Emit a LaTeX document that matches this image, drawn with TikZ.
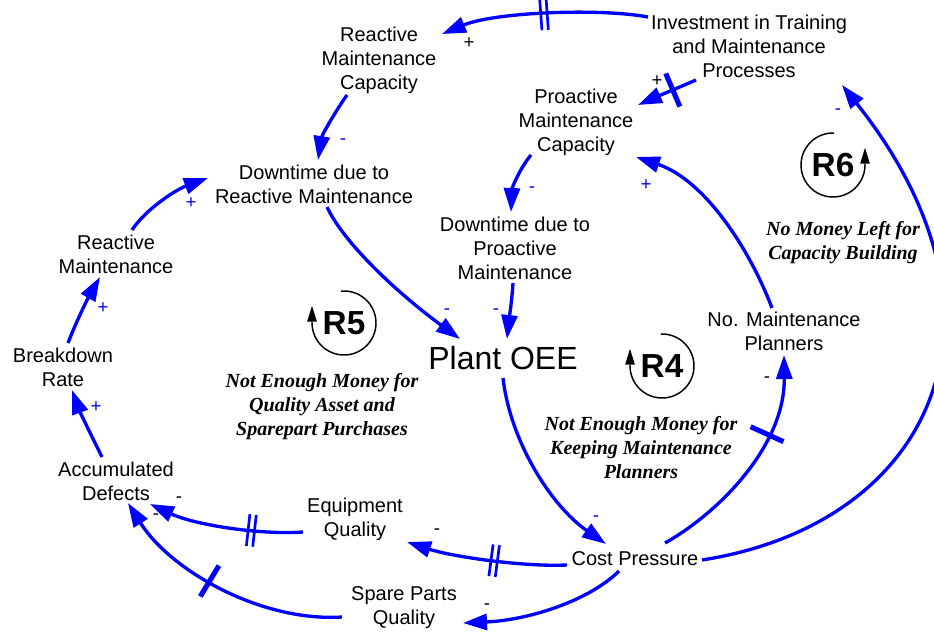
\documentclass[tikz,border=0pt]{standalone}
\usepackage{fontspec}
\setmainfont{Liberation Sans}
\newfontfamily\notefont{Liberation Serif}
\usetikzlibrary{arrows.meta,calc,decorations.markings}

\tikzset{
  var/.style={font=\fontsize{15}{18}\selectfont, align=center, inner sep=0pt},
  bigvar/.style={font=\fontsize{24}{28}\selectfont, inner sep=0pt},
  note/.style={font=\notefont\bfseries\itshape\fontsize{15}{18}\selectfont, align=center, inner sep=0pt},
  rlab/.style={font=\bfseries\fontsize{25}{25}\selectfont, inner sep=0pt},
  sgn/.style={font=\fontsize{14}{14}\selectfont, inner sep=0pt},
  bsgn/.style={sgn, text=blue},
  link/.style={draw=blue, line width=2.5pt, -{Triangle[length=18pt,width=12pt]}},
  loopline/.style={draw=black, line width=1.1pt, -{Triangle[length=12pt,width=7pt]}},
  onebar/.style={postaction={decorate,decoration={markings,
      mark=at position #1 with {\draw[arrows=-, blue, line width=3.8pt] (0,-13.5pt) -- (0,13.5pt);}}}},
  twobar/.style={postaction={decorate,decoration={markings,
      mark=at position #1 with {\draw[arrows=-, blue, line width=2pt] (-2.4pt,-12pt) -- (-2.4pt,12pt) (2.4pt,-12pt) -- (2.4pt,12pt);}}}},
}

\begin{document}
\begin{tikzpicture}[x=0.75pt, y=-0.75pt]
\useasboundingbox (0,0) rectangle (934,632);

% variables
\node[var] (inv) at (749,46)  {Investment in Training\\and Maintenance\\Processes};
\node[var] (rmc) at (379,60)  {Reactive\\Maintenance\\Capacity};
\node[var] (pmc) at (576,122) {Proactive\\Maintenance\\Capacity};
\node[var] (dtr) at (314,184) {Downtime due to\\Reactive Maintenance};
\node[var] (dtp) at (515,248) {Downtime due to\\Proactive\\Maintenance};
\node[var] (rm)  at (116,254) {Reactive\\Maintenance};
\node[var] (br)  at (63,367)  {Breakdown\\Rate};
\node[var] (ad)  at (116,481) {Accumulated\\Defects};
\node[var] (eq)  at (355,519) {Equipment\\Quality};
\node[var] (sp)  at (404,608) {Spare Parts\\Quality};
\node[var] (cp)  at (635,559) {Cost Pressure};
\node[var] (nmp) at (784,331) {No. Maintenance\\Planners};
\node[bigvar] (oee) at (503,358) {Plant OEE};

% loop descriptions
\node[note] (n5) at (322,407) {Not Enough Money for\\Quality Asset and\\Sparepart Purchases};
\node[note] (n4) at (641,448) {Not Enough Money for\\Keeping Maintenance\\Planners};
\node[note] (n6) at (843,243) {No Money Left for\\Capacity Building};

% loop markers
\node[rlab] (r5) at (344,323) {R5};
\draw[loopline] ([shift={(95:24pt)}]r5.center) arc[start angle=95,end angle=-180,radius=24pt] -- ++(0,13pt);
\node[rlab] (r4) at (662,366) {R4};
\draw[loopline] ([shift={(92:24pt)}]r4.center) arc[start angle=92,end angle=-180,radius=24pt] -- ++(0,13pt);
\node[rlab] (r6) at (833,165) {R6};
\draw[loopline] ([shift={(88:24pt)}]r6.center) arc[start angle=88,end angle=360,radius=24pt] -- ++(0,13pt);

% causal links
\draw[link, twobar=0.5] ($(inv)+(-101,-29)$) .. controls (600,8) and (495,12) .. ($(rmc)+(63,-26)$);
\draw[link, onebar=0.4] ($(inv)+(-53,34)$) .. controls (680,87) and (656,97) .. ($(pmc)+(62,-17)$);
\draw[link] ($(rmc)+(-32,35)$) .. controls (335,112) and (322,135) .. ($(dtr)+(4,-24)$);
\draw[link] ($(pmc)+(-45,33)$) .. controls (520,168) and (512,188) .. ($(dtp)+(-4,-36)$);
\draw[link] ($(rm)+(16,-24)$) .. controls (145,210) and (175,190) .. ($(dtr)+(-106,-6)$);
\draw[link] ($(br)+(5,-24)$) .. controls (76,322) and (88,298) .. ($(rm)+(-16,23)$);
\draw[link] ($(ad)+(-14,-24)$) .. controls (92,437) and (80,412) .. ($(br)+(9,23)$);
\draw[link] ($(dtr)+(13,23)$) .. controls (345,245) and (400,295) .. ($(oee)+(-43,-19)$);
\draw[link] ($(dtp)+(-2,35)$) .. controls (512,300) and (509,320) .. ($(oee)+(4,-19)$);
\draw[link] ($(oee)+(0,20)$) .. controls (510,440) and (550,505) .. ($(cp)+(-29,-15)$);
\draw[link, twobar=0.45] ($(cp)+(-68,6)$) .. controls (520,567) and (450,556) .. ($(eq)+(52,23)$);
\draw[link] ($(cp)+(-16,12)$) .. controls (590,600) and (530,620) .. ($(sp)+(59,15)$);
\draw[link, twobar=0.33] ($(eq)+(-52,13)$) .. controls (260,535) and (195,525) .. ($(ad)+(34,23)$);
\draw[link, onebar=0.55] ($(sp)+(-62,9)$) .. controls (260,622) and (170,570) .. ($(ad)+(12,22)$);
\draw[link, onebar=0.65] ($(cp)+(30,-16)$) .. controls (720,512) and (785,445) .. ($(nmp)+(0,24)$);
\draw[link] ($(nmp)+(-12,-23)$) .. controls (750,250) and (705,180) .. ($(pmc)+(60,35)$);
\draw[link] ($(cp)+(67,1)$) .. controls (932,524) and (1028,319) .. ($(inv)+(93,39)$);

% polarities
\node[sgn]  (p1)  at (469,43)  {+};
\node[sgn]  (p2)  at (657,81)  {+};
\node[bsgn] (p3)  at (343,142) {-};
\node[bsgn] (p4)  at (532,190) {-};
\node[bsgn] (p5)  at (191,203) {+};
\node[bsgn] (p6)  at (103,308) {+};
\node[bsgn] (p7)  at (96,407)  {+};
\node[bsgn] (p8)  at (447,312) {-};
\node[bsgn] (p9)  at (496,312) {-};
\node[bsgn] (p10) at (596,519) {-};
\node[sgn]  (p11) at (437,532) {-};
\node[sgn]  (p12) at (487,607) {-};
\node[sgn]  (p13) at (179,500) {-};
\node[sgn]  (p14) at (156,517) {-};
\node[sgn]  (p15) at (767,380) {-};
\node[bsgn] (p16) at (646,185) {+};
\node[bsgn] (p17) at (838,112) {-};
\end{tikzpicture}
\end{document}
